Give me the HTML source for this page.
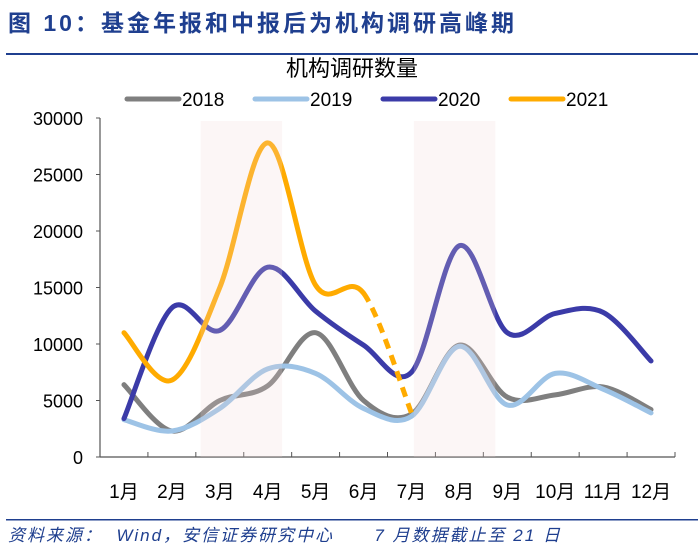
<!DOCTYPE html>
<html><head><meta charset="utf-8"><style>
body{margin:0;background:#fff;width:700px;height:552px;overflow:hidden;font-family:"Liberation Sans","Noto Sans CJK SC",sans-serif}
</style></head><body>
<svg id="chart" width="700" height="552" xmlns="http://www.w3.org/2000/svg" font-family="Liberation Sans, Noto Sans CJK SC, sans-serif">
<text x="8" y="31" font-size="23" font-weight="bold" fill="#1f3f8f" letter-spacing="3">图 10：基金年报和中报后为机构调研高峰期</text>
<rect x="6" y="53" width="692" height="2" fill="#1f3f8f"/>
<text x="352" y="76" font-size="22" text-anchor="middle" fill="#000">机构调研数量</text>
<g id="legend"></g>
<g id="plot"></g>
<rect x="6" y="519" width="692" height="1.5" fill="#1f3f8f"/>
<text x="8" y="541" font-size="17" font-style="italic" fill="#1f3f8f" letter-spacing="2" xml:space="preserve">资料来源：  Wind，安信证券研究中心      7 月数据截止至 21 日</text>
</svg>
<script>
const categories=["1月","2月","3月","4月","5月","6月","7月","8月","9月","10月","11月","12月"];
const yTicks=[0,5000,10000,15000,20000,25000,30000];
const s2018=[6400,2300,5000,6300,11000,5000,3800,9900,5300,5500,6200,4200];
const s2019=[3300,2300,4300,7800,7400,4300,3600,9800,4600,7400,6000,3900];
const s2020=[3400,13200,11200,16800,12900,9900,7500,18700,11000,12700,12800,8500];
const s2021=[11000,6800,15000,27800,15200,14500,3900];
const seriesNames=["2018","2019","2020","2021"];
const seriesColors=["#7f7f7f","#9dc3e6","#3b3ba8","#ffab00"];
const bands=[[2.1,3.8],[6.55,8.25]];

const NS="http://www.w3.org/2000/svg";
const X0=100,X1=675,Y0=457,Y1=118,YMAX=30000;
const cw=(X1-X0)/categories.length;
const xAt=i=>X0+(i+0.5)*cw;
const yAt=v=>Y0-(v/YMAX)*(Y0-Y1);
const plot=document.getElementById('plot');
function mk(tag,attrs,parent){const e=document.createElementNS(NS,tag);for(const k in attrs)e.setAttribute(k,attrs[k]);(parent||plot).appendChild(e);return e;}

const ya=mk('line',{x1:X0,y1:Y1,x2:X0,y2:Y0,stroke:'#555','stroke-width':1.2});


const xa=mk('line',{x1:X0,y1:Y0,x2:X1,y2:Y0,stroke:'#555','stroke-width':1.2});


yTicks.forEach(v=>{
  mk('line',{x1:X0-4,y1:yAt(v),x2:X0,y2:yAt(v),stroke:'#555'});
  const t=mk('text',{x:83,y:yAt(v)+7,'font-size':18,'text-anchor':'end',fill:'#000'});
  t.textContent=v;
  
  
});
for(let i=0;i<=categories.length;i++){
  mk('line',{x1:X0+i*cw,y1:Y0,x2:X0+i*cw,y2:Y0-5,stroke:'#555'});
}
categories.forEach((c,i)=>{
  const t=mk('text',{x:xAt(i),y:498,'font-size':19,'text-anchor':'middle',fill:'#000'});
  t.textContent=c;
  
  
});

function segPath(pts,a,b){
  let d='';
  for(let i=a;i<b;i++){
    const p0=pts[Math.max(i-1,0)],p1=pts[i],p2=pts[i+1],p3=pts[Math.min(i+2,pts.length-1)];
    const c1=[p1[0]+(p2[0]-p0[0])/6,p1[1]+(p2[1]-p0[1])/6];
    const c2=[p2[0]-(p3[0]-p1[0])/6,p2[1]-(p3[1]-p1[1])/6];
    if(i===a)d+='M'+p1[0]+','+p1[1];
    d+='C'+c1[0]+','+c1[1]+' '+c2[0]+','+c2[1]+' '+p2[0]+','+p2[1];
  }
  return d;
}
const all=[s2018,s2019,s2020,s2021];
all.forEach((s,k)=>{
  const pts=s.map((v,i)=>[xAt(i),yAt(v)]);
  if(k===3){
    const p=mk('path',{d:segPath(pts,0,5),fill:'none',stroke:seriesColors[k],'stroke-width':5,'stroke-linecap':'round'});
    
    
    const q=mk('path',{d:segPath(pts,5,6),fill:'none',stroke:seriesColors[k],'stroke-width':5,'stroke-dasharray':'10,7'});
    
    
  }else{
    const p=mk('path',{d:segPath(pts,0,pts.length-1),fill:'none',stroke:seriesColors[k],'stroke-width':5,'stroke-linecap':'round'});
    
    
  }
});
bands.forEach(b=>{
  const r=mk('rect',{x:X0+b[0]*cw,y:121,width:(b[1]-b[0])*cw,height:Y0-121,fill:'#f2d8d8','fill-opacity':0.22});
  
  
});
const lg=document.getElementById('legend');
seriesNames.forEach((n,k)=>{
  const x0=127+k*128;
  const l=mk('line',{x1:x0,y1:99,x2:x0+52,y2:99,stroke:seriesColors[k],'stroke-width':5,'stroke-linecap':'round'},lg);
  
  
  const t=mk('text',{x:x0+55,y:106,'font-size':19,fill:'#000'},lg);
  t.textContent=n;
  
  
});
</script>
</body></html>
